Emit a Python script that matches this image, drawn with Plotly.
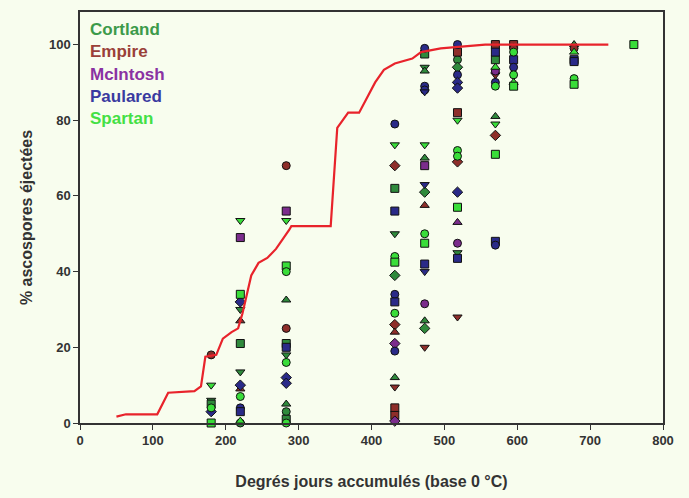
import plotly.graph_objects as go

# ---- data ----
line_x = [50, 63, 106, 121, 157, 166, 172, 187, 196, 208, 217, 223, 235, 245, 257, 269, 287, 290,
          344, 350, 353, 368, 383, 405, 417, 432, 456, 468, 495, 556, 725]
line_y = [1.7, 2.3, 2.3, 8, 8.4, 9.7, 17.5, 18, 22.3, 24, 25, 29, 39, 42.3, 43.6, 46, 51, 52,
          52, 68, 78, 82, 82, 90, 93.3, 95, 96.3, 98, 99, 100, 100]

cultivars = ["Cortland", "Empire", "McIntosh", "Paulared", "Spartan"]

cortland_x = [180, 180, 220, 220, 220, 220, 283, 283, 283, 283, 283, 283, 432, 432, 432, 432,
              473, 473, 473, 473, 473, 473, 473, 518, 518, 518, 570, 570, 678]
cortland_y = [6, 5, 30, 21, 13.5, 0, 32.5, 21, 18, 5, 3, 1, 62, 50, 39, 12,
              97.5, 94, 93, 70, 61, 27, 25, 96, 94, 45, 96, 81, 100]
cortland_site = ["d", "s", "d", "s", "d", "c", "u", "s", "d", "u", "c", "s", "s", "d", "m", "u",
                 "s", "d", "u", "u", "m", "u", "m", "c", "m", "d", "s", "u", "u"]

empire_x = [180, 220, 220, 283, 283, 432, 432, 432, 432, 432, 432, 473, 473, 518, 518, 518, 518,
            570, 570, 570, 595, 595, 678]
empire_y = [18, 27, 9, 68, 25, 68, 26, 24, 9.5, 4, 2, 57.5, 20, 98, 69, 28, 82,
            100, 92, 76, 100, 99, 99]
empire_site = ["c", "u", "u", "c", "c", "m", "m", "u", "d", "s", "s", "u", "d", "s", "m", "d", "s",
               "s", "d", "m", "s", "c", "c"]

mcintosh_x = [220, 283, 432, 432, 473, 473, 518, 518, 570]
mcintosh_y = [49, 56, 21, 0.5, 68, 31.5, 53, 47.5, 93]
mcintosh_site = ["s", "s", "m", "m", "s", "c", "u", "c", "c"]

paulared_x = [180, 220, 220, 220, 220, 283, 283, 283, 432, 432, 432, 432, 432,
              473, 473, 473, 473, 473, 473, 473, 518, 518, 518, 518, 518, 518,
              570, 570, 570, 570, 595, 595, 678, 678]
paulared_y = [3, 32, 10, 4, 3, 20, 12, 10.5, 79, 56, 34, 32, 19,
              99, 89, 88, 87.5, 63, 42, 40, 100, 92, 90, 88.5, 61, 43.5,
              98, 90, 48, 47, 96, 94, 96, 95.5]
paulared_site = ["m", "m", "m", "c", "s", "s", "m", "m", "c", "s", "c", "s", "c",
                 "c", "c", "c", "d", "d", "s", "d", "c", "c", "m", "m", "m", "s",
                 "s", "c", "s", "c", "s", "c", "s", "s"]

spartan_x = [180, 180, 180, 220, 220, 220, 220, 283, 283, 283, 283, 283, 432, 432, 432, 432,
             473, 473, 473, 518, 518, 518, 518, 570, 570, 570, 570, 595, 595, 595, 595,
             678, 678, 678, 760]
spartan_y = [0, 10, 4, 53.5, 34, 7, 0.5, 53.5, 41.5, 40, 16, 0, 73.5, 44, 42.5, 29,
             73.5, 50, 47.5, 80, 72, 70.5, 57, 94, 89, 79, 71, 98, 92, 90, 89,
             98, 91, 89.5, 100]
spartan_site = ["s", "d", "c", "d", "s", "c", "u", "d", "s", "c", "c", "c", "d", "c", "s", "c",
                "d", "c", "s", "d", "c", "c", "s", "u", "c", "d", "s", "c", "c", "u", "s",
                "u", "c", "s", "s"]

x_ticks = [0, 100, 200, 300, 400, 500, 600, 700, 800]
y_ticks = [0, 20, 40, 60, 80, 100]

# ---- styles ----
colors = {"Cortland": "#2F8A3C", "Empire": "#8E2E2A", "McIntosh": "#7B2C8C",
          "Paulared": "#2A2A88", "Spartan": "#39DD39"}
label_colors = {"Cortland": "#3C9A4A", "Empire": "#9A4038", "McIntosh": "#8A32A2",
                "Paulared": "#3A3AA0", "Spartan": "#44E044"}
symbol_map = {"c": "circle", "u": "triangle-up", "d": "triangle-down", "s": "square", "m": "diamond"}

series = {
    "Cortland": (cortland_x, cortland_y, cortland_site),
    "Empire": (empire_x, empire_y, empire_site),
    "McIntosh": (mcintosh_x, mcintosh_y, mcintosh_site),
    "Paulared": (paulared_x, paulared_y, paulared_site),
    "Spartan": (spartan_x, spartan_y, spartan_site),
}

bg = "#F8FDEE"
fig = go.Figure()

for name in cultivars:
    xs, ys, ss = series[name]
    fig.add_trace(go.Scatter(
        x=xs, y=ys, mode="markers", name=name, cliponaxis=False,
        marker=dict(color=colors[name], size=8, symbol=[symbol_map[s] for s in ss],
                    line=dict(color="#111111", width=1)),
    ))

fig.add_trace(go.Scatter(x=line_x, y=line_y, mode="lines",
                         line=dict(color="#E8232B", width=2.2), showlegend=False))

font_family = "Liberation Sans, Arial, sans-serif"
ann_y = [0.957, 0.903, 0.848, 0.794, 0.740]
for name, yy in zip(cultivars, ann_y):
    fig.add_annotation(x=0.014, y=yy, xref="paper", yref="paper", text="<b>%s</b>" % name,
                       showarrow=False, xanchor="left", yanchor="middle",
                       font=dict(family=font_family, size=17, color=label_colors[name]))

fig.update_layout(
    width=689, height=498,
    margin=dict(l=80, r=26, t=10, b=73),
    paper_bgcolor=bg, plot_bgcolor=bg,
    showlegend=False,
    font=dict(family=font_family, color="#333333"),
)
fig.update_xaxes(range=[0, 800], tickvals=x_ticks, ticktext=["<b>%d</b>" % v for v in x_ticks],
                 showgrid=False, zeroline=False, showline=True, linecolor="#333333", linewidth=1.5,
                 mirror=True, ticks="outside", ticklen=5, tickcolor="#333333",
                 tickfont=dict(size=13, color="#333333"),
                 title=dict(text="<b>Degrés jours accumulés (base 0 °C)</b>",
                            font=dict(size=16, color="#333333"), standoff=28))
fig.update_yaxes(range=[0, 108.6], tickvals=y_ticks, ticktext=["<b>%d</b>" % v for v in y_ticks],
                 showgrid=False, zeroline=False, showline=True, linecolor="#333333", linewidth=1.5,
                 mirror=True, ticks="outside", ticklen=5, tickcolor="#333333",
                 tickfont=dict(size=13, color="#333333"),
                 title=dict(text="<b>% ascospores éjectées</b>",
                            font=dict(size=16, color="#333333"), standoff=12))

fig.write_html("out.html")
